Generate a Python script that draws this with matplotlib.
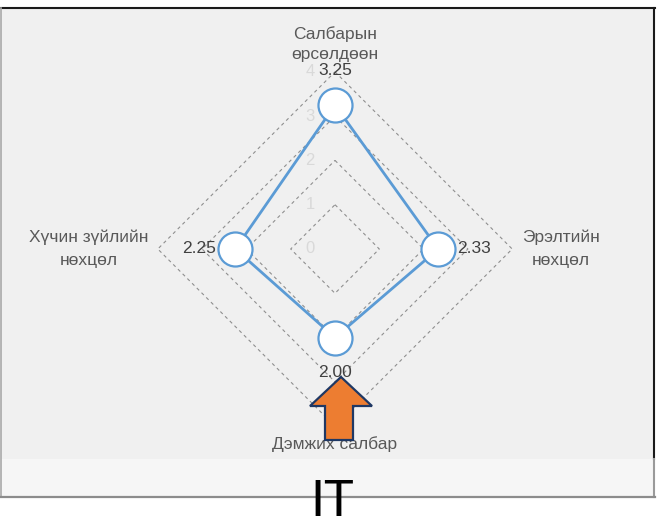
import numpy as np
import matplotlib
matplotlib.use("Agg")
import matplotlib.pyplot as plt
from matplotlib.patches import Rectangle, Polygon
from matplotlib.lines import Line2D

# data
categories = ["Салбарын\nөрсөлдөөн", "Эрэлтийн\nнөхцөл", "Дэмжих салбар", "Хүчин зүйлийн\nнөхцөл"]
values = [3.25, 2.33, 2.00, 2.25]
value_labels = ["3.25", "2.33", "2.00", "2.25"]
radial_ticks = [0, 1, 2, 3, 4]
title_text = "IT"

W, H = 666, 526
CX, CY = 335, 249          # centre of radar in pixels (from top)
UNIT = 44.3                # pixels per value unit

plt.rcParams['font.family'] = ['Liberation Sans', 'DejaVu Sans']

fig = plt.figure(figsize=(W / 100, H / 100), dpi=100)
fig.patch.set_facecolor("white")


def fx(x):
    return x / W


def fy(y):
    return 1 - y / H


# background panel
fig.add_artist(Rectangle((fx(1), fy(459)), fx(653), (459 - 8) / H, transform=fig.transFigure,
                         facecolor="#f0f0f0", edgecolor="none", zorder=-3))
fig.add_artist(Rectangle((fx(1), fy(497)), fx(653), (497 - 459) / H, transform=fig.transFigure,
                         facecolor="#f6f6f6", edgecolor="none", zorder=-3))
fig.add_artist(Line2D([fx(0), fx(655)], [fy(8), fy(8)], transform=fig.transFigure,
                      color="#1a1a1a", lw=1.5, zorder=-2))
fig.add_artist(Line2D([fx(654), fx(654)], [fy(8), fy(459)], transform=fig.transFigure,
                      color="#1a1a1a", lw=1.5, zorder=-2))
fig.add_artist(Line2D([fx(654), fx(654)], [fy(459), fy(497)], transform=fig.transFigure,
                      color="#9a9a9a", lw=1.5, zorder=-2))
fig.add_artist(Line2D([fx(1), fx(1)], [fy(8), fy(497)], transform=fig.transFigure,
                      color="#a8a8a8", lw=1.2, zorder=-2))
fig.add_artist(Line2D([fx(0), fx(655)], [fy(497), fy(497)], transform=fig.transFigure,
                      color="#8c8c8c", lw=1.6, zorder=-2))

ax = fig.add_axes([0, 0, 1, 1])
ax.set_xlim(-CX / UNIT, (W - CX) / UNIT)
ax.set_ylim(-(H - CY) / UNIT, CY / UNIT)
ax.set_aspect("equal")
ax.axis("off")

n = len(categories)
angles = np.pi / 2 - np.arange(n) * 2 * np.pi / n
ux, uy = np.cos(angles), np.sin(angles)

# grid diamonds
for r in radial_ticks[1:]:
    gx = np.append(r * ux, r * ux[0])
    gy = np.append(r * uy, r * uy[0])
    ax.plot(gx, gy, color="#8f8f8f", lw=0.8, ls=(0, (3, 3)), zorder=1)

# radial tick labels
for r in radial_ticks:
    ax.text(-0.56, r, str(r), ha="center", va="center", fontsize=12, color="#d9d9d9", zorder=2)

# series
vals = np.array(values)
px, py = vals * ux, vals * uy
ax.plot(np.append(px, px[0]), np.append(py, py[0]), color="#5b9bd5", lw=2.0, zorder=3)
ax.plot(px, py, ls="none", marker="o", markersize=24.5, markerfacecolor="white",
        markeredgecolor="#5b9bd5", markeredgewidth=1.6, zorder=4)

# value labels
for x, y, dx, dy, lab in zip(px, py, ux, uy, value_labels):
    ax.annotate(lab, (x, y), xytext=(dx * 26, dy * 25), textcoords="offset points",
                ha="center", va="center", fontsize=12.5, color="#404040", zorder=5)

# category labels
gap = 0.22
rl = 4 + gap
ax.text(0, rl, categories[0], ha="center", va="bottom", fontsize=12.5, color="#595959",
        linespacing=1.45, zorder=5)
ax.text(rl, 0, categories[1], ha="left", va="center", fontsize=12.5, color="#595959",
        multialignment="center", linespacing=1.65, zorder=5)
ax.text(0, -rl, categories[2], ha="center", va="top", fontsize=12.5, color="#595959",
        linespacing=1.45, zorder=5)
ax.text(-rl, 0, categories[3], ha="right", va="center", fontsize=12.5, color="#595959",
        multialignment="center", linespacing=1.65, zorder=5)

# orange block arrow pointing up
arrow_px = [(341, 377), (372, 406), (353, 406), (353, 440), (325, 440), (325, 406), (310, 406)]
arrow = Polygon([(fx(x), fy(y)) for x, y in arrow_px], closed=True, transform=fig.transFigure,
                facecolor="#ed7d31", edgecolor="#1f3864", lw=1.6, joinstyle="miter", zorder=10)
fig.add_artist(arrow)

fig.text(fx(332), fy(502), title_text, ha="center", va="center", fontsize=36,
         family=["Lato", "DejaVu Sans"], color="black", zorder=10)

fig.savefig("out.png", dpi=100)
